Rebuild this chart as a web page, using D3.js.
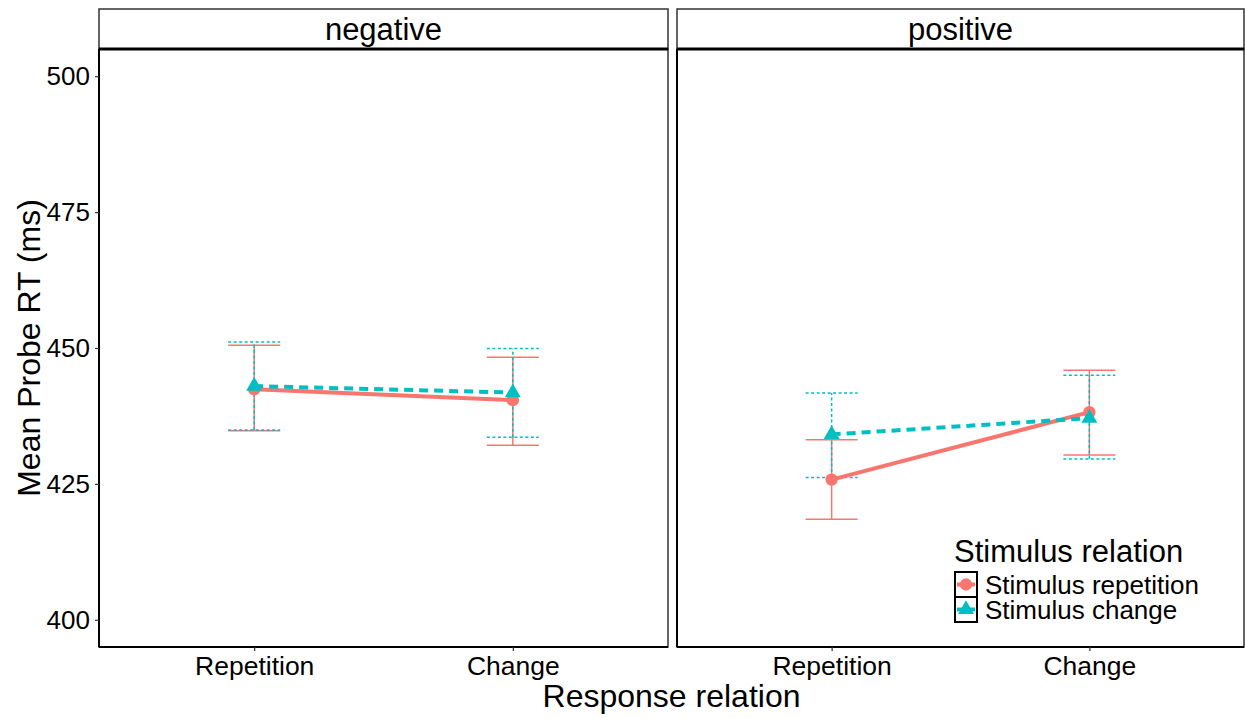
<!DOCTYPE html>
<html>
<head>
<meta charset="utf-8">
<script src="https://cdn.jsdelivr.net/npm/d3@7"></script>
<style>
  body { margin: 0; background: #fff; }
  text { font-family: "Liberation Sans", Arial, sans-serif; fill: #000; }
</style>
</head>
<body>
<div id="chart"></div>
<script>
const panels = ["negative", "positive"];
const responses = ["Repetition", "Change"];
const groups = ["Stimulus repetition", "Stimulus change"];
const yTicks = [400, 425, 450, 475, 500];

// order: negative-Repetition, negative-Change, positive-Repetition, positive-Change
const stimRepMean = [442.4, 440.4, 425.8, 438.2];
const stimRepLow = [434.8, 432.1, 418.5, 430.3];
const stimRepHigh = [450.5, 448.3, 433.1, 445.9];
const stimChgMean = [443.0, 441.8, 434.1, 437.1];
const stimChgLow = [434.9, 433.6, 426.2, 429.6];
const stimChgHigh = [451.1, 449.9, 441.7, 445.0];

const colors = ["#F8766D", "#00BFC4"];
const W = 1245, H = 718;
const plotTop = 49, plotBottom = 647, stripTop = 9;
const panelX = [[99, 668], [677, 1244]];

const svg = d3.select("#chart").append("svg")
  .attr("width", W)
  .attr("height", H);

const y = d3.scaleLinear().domain([395, 505]).range([plotBottom, plotTop]);

// build rows from the arrays
const series = groups.map((g, gi) => {
  const m = gi === 0 ? stimRepMean : stimChgMean;
  const lo = gi === 0 ? stimRepLow : stimChgLow;
  const hi = gi === 0 ? stimRepHigh : stimChgHigh;
  return panels.map((p, pi) => responses.map((r, ri) => {
    const k = pi * 2 + ri;
    return { group: gi, panel: pi, resp: r, mean: m[k], lo: lo[k], hi: hi[k] };
  }));
});

panels.forEach((p, pi) => {
  const [x0, x1] = panelX[pi];
  const x = d3.scalePoint().domain(responses).range([x0, x1]).padding(0.6);
  const g = svg.append("g");

  // strip
  g.append("rect")
    .attr("x", x0).attr("y", stripTop)
    .attr("width", x1 - x0).attr("height", plotTop - stripTop)
    .attr("fill", "#fff").attr("stroke", "#333").attr("stroke-width", 1.5);
  g.append("text")
    .attr("x", (x0 + x1) / 2).attr("y", (stripTop + plotTop) / 2)
    .attr("dy", "0.35em").attr("text-anchor", "middle")
    .attr("font-size", 31).text(p);

  // panel border
  g.append("rect")
    .attr("x", x0).attr("y", plotTop)
    .attr("width", x1 - x0).attr("height", plotBottom - plotTop)
    .attr("fill", "none").attr("stroke", "#333").attr("stroke-width", 1.5);
  g.append("line").attr("x1", x0).attr("x2", x1).attr("y1", plotTop).attr("y2", plotTop)
    .attr("stroke", "#000").attr("stroke-width", 3);
  g.append("line").attr("x1", x0).attr("x2", x0).attr("y1", plotTop).attr("y2", plotBottom)
    .attr("stroke", "#000").attr("stroke-width", 2);
  g.append("line").attr("x1", x0).attr("x2", x1).attr("y1", plotBottom).attr("y2", plotBottom)
    .attr("stroke", "#000").attr("stroke-width", 2);

  // x axis
  const xa = g.append("g")
    .attr("transform", "translate(0," + plotBottom + ")")
    .call(d3.axisBottom(x).tickSize(4).tickPadding(5));
  xa.select(".domain").remove();
  xa.selectAll(".tick line").attr("stroke", "#333").attr("stroke-width", 1.2);
  xa.selectAll(".tick text").attr("font-size", 26.5).attr("fill", "#000")
    .attr("font-family", "Liberation Sans, Arial, sans-serif");

  // y axis on first panel only
  if (pi === 0) {
    const ya = g.append("g")
      .attr("transform", "translate(" + x0 + ",0)")
      .call(d3.axisLeft(y).tickValues(yTicks).tickSize(4).tickPadding(5));
    ya.select(".domain").remove();
    ya.selectAll(".tick line").attr("stroke", "#333").attr("stroke-width", 1.2);
    ya.selectAll(".tick text").attr("font-size", 26).attr("fill", "#000")
      .attr("font-family", "Liberation Sans, Arial, sans-serif");
  }

  const capW = 26;
  // error bars
  series.forEach((s, gi) => {
    const rows = s[pi];
    const eb = g.append("g")
      .attr("stroke", colors[gi])
      .attr("stroke-width", 1.5)
      .attr("stroke-dasharray", gi === 1 ? "3,2.5" : null)
      .attr("fill", "none");
    rows.forEach(d => {
      const cx = x(d.resp);
      eb.append("line").attr("x1", cx).attr("x2", cx).attr("y1", y(d.lo)).attr("y2", y(d.hi));
      eb.append("line").attr("x1", cx - capW).attr("x2", cx + capW).attr("y1", y(d.lo)).attr("y2", y(d.lo));
      eb.append("line").attr("x1", cx - capW).attr("x2", cx + capW).attr("y1", y(d.hi)).attr("y2", y(d.hi));
    });
  });

  // lines
  series.forEach((s, gi) => {
    g.append("path")
      .datum(s[pi])
      .attr("fill", "none")
      .attr("stroke", colors[gi])
      .attr("stroke-width", 4)
      .attr("stroke-dasharray", gi === 1 ? "9,6" : null)
      .attr("d", d3.line().x(d => x(d.resp)).y(d => y(d.mean)));
  });

  // points
  series.forEach((s, gi) => {
    g.selectAll(".pt" + gi)
      .data(s[pi])
      .enter().append("path")
      .attr("class", "pt" + gi)
      .attr("transform", d => "translate(" + x(d.resp) + "," + y(d.mean) + ")")
      .attr("d", d3.symbol().type(gi === 0 ? d3.symbolCircle : d3.symbolTriangle).size(gi === 0 ? 120 : 110))
      .attr("fill", colors[gi]);
  });
});

// axis titles
svg.append("text")
  .attr("x", (99 + 1244) / 2).attr("y", 707)
  .attr("text-anchor", "middle").attr("font-size", 32)
  .text("Response relation");
svg.append("text")
  .attr("transform", "translate(40," + (plotTop + plotBottom) / 2 + ") rotate(-90)")
  .attr("text-anchor", "middle").attr("font-size", 32)
  .text("Mean Probe RT (ms)");

// legend
const lg = svg.append("g").attr("transform", "translate(954,0)");
lg.append("text").attr("x", 0).attr("y", 562).attr("font-size", 31).text("Stimulus relation");
groups.forEach((name, gi) => {
  const ky = 572 + gi * 25;
  lg.append("rect").attr("x", 1).attr("y", ky).attr("width", 22).attr("height", 25)
    .attr("fill", "#fff").attr("stroke", "#000").attr("stroke-width", 2);
  lg.append("line").attr("x1", 3).attr("x2", 21).attr("y1", ky + 12.5).attr("y2", ky + 12.5)
    .attr("stroke", colors[gi]).attr("stroke-width", 4);
  lg.append("path")
    .attr("transform", "translate(12," + (ky + 12.5) + ")")
    .attr("d", d3.symbol().type(gi === 0 ? d3.symbolCircle : d3.symbolTriangle).size(gi === 0 ? 120 : 110))
    .attr("fill", colors[gi]);
  lg.append("text").attr("x", 31).attr("y", ky + 12.5).attr("dy", "0.36em")
    .attr("font-size", 26).text(name);
});
</script>
</body>
</html>
